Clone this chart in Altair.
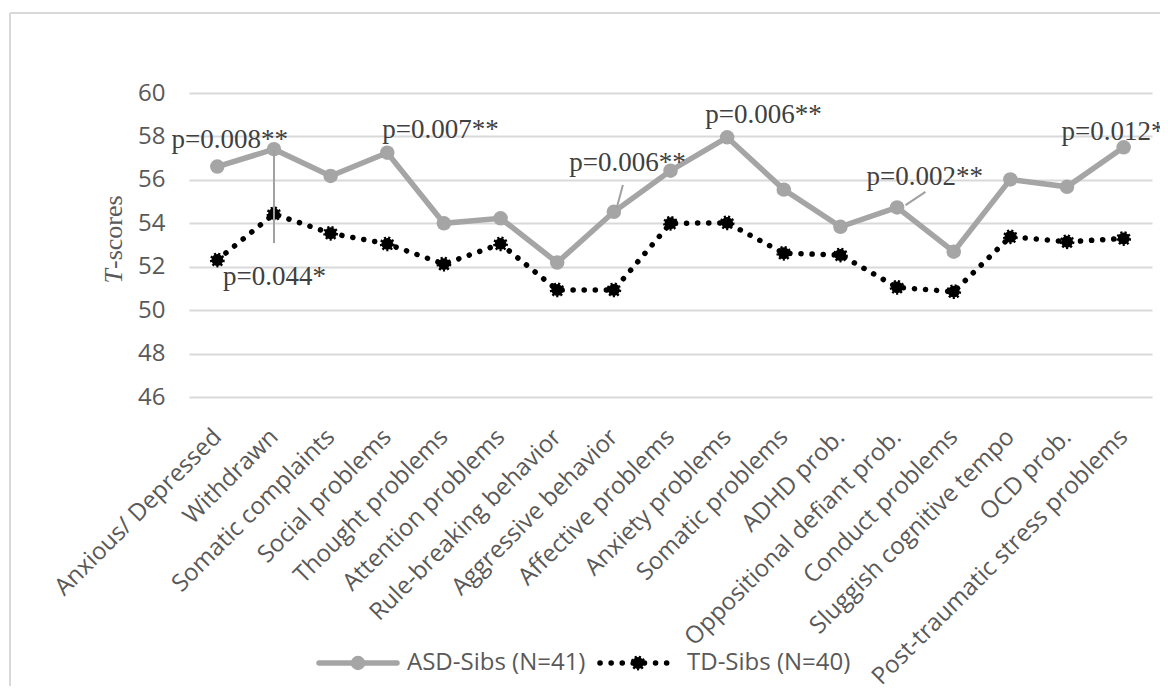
import json
import altair as alt
import pandas as pd

# ---------------- data ----------------
categories = [
    "Anxious/ Depressed", "Withdrawn", "Somatic complaints", "Social problems",
    "Thought problems", "Attention problems", "Rule-breaking behavior",
    "Aggressive behavior", "Affective problems", "Anxiety problems",
    "Somatic problems", "ADHD prob.", "Oppositional defiant prob.",
    "Conduct problems", "Sluggish cognitive tempo", "OCD prob.",
    "Post-traumatic stress problems",
]
asd_values = [56.61, 57.41, 56.18, 57.25, 54.00, 54.23, 52.19, 54.53, 56.42,
              57.96, 55.55, 53.84, 54.73, 52.69, 56.02, 55.68, 57.50]
td_values = [52.31, 54.43, 53.54, 53.05, 52.12, 53.05, 50.93, 50.93, 54.00,
             54.02, 52.62, 52.54, 51.05, 50.85, 53.38, 53.15, 53.30]
series = ["ASD-Sibs (N=41)", "TD-Sibs (N=40)"]
y_ticks = [46, 48, 50, 52, 54, 56, 58, 60]

ann_text = ["p=0.008**", "p=0.044*", "p=0.007**", "p=0.006**", "p=0.006**",
            "p=0.002**", "p=0.012*"]
ann_x = [0.22, 1.01, 3.94, 7.24, 9.64, 12.49, 15.81]
ann_y = [57.45, 51.16, 57.91, 56.42, 58.63, 55.76, 57.84]

lead_x = [1.00, 7.16, 12.50]
lead_x2 = [1.00, 7.05, 12.15]
lead_y = [57.37, 55.76, 55.45]
lead_y2 = [53.09, 54.70, 54.84]

# ---------------- styling ----------------
SANS = "Open Sans"
SERIF = "Liberation Serif"
LABEL = "#595959"
ASD_COL = "#a5a5a5"
GRID = "#d9d9d9"

idx = list(range(len(categories)))
df = pd.DataFrame({"i": idx, "cat": categories, "asd": asd_values, "td": td_values})
ann = pd.DataFrame({"x": ann_x, "y": ann_y, "t": ann_text})
lead = pd.DataFrame({"x": lead_x, "x2": lead_x2, "y": lead_y, "y2": lead_y2})
one = pd.DataFrame({"a": [0]})

label_expr = json.dumps(categories) + "[datum.value]"

xscale = alt.Scale(domain=[-0.5, len(categories) - 0.5], nice=False, zero=False)
yscale = alt.Scale(domain=[46, 60], nice=False, zero=False)

x_axis = alt.Axis(
    values=idx, labelExpr=label_expr, grid=False, domain=False, ticks=False,
    labelAngle=315, labelAlign="right", labelBaseline="middle",
    labelPadding=36, labelFlush=False, labelOverlap=False, labelLimit=0,
    labelFont=SANS, labelFontSize=24, labelColor=LABEL, title=None,
)
y_axis = alt.Axis(
    values=y_ticks, grid=True, gridColor=GRID, gridWidth=2, domain=False,
    ticks=False, labelPadding=24, labelFont=SANS, labelFontSize=24,
    labelColor=LABEL, title=None,
)

base = alt.Chart(df)
X = alt.X("i:Q", scale=xscale, axis=x_axis)

td_line = base.mark_line(color="black", strokeWidth=5.5, strokeDash=[0.1, 11],
                         strokeCap="round").encode(
    x=X, y=alt.Y("td:Q", scale=yscale, axis=y_axis))
td_pts = base.mark_point(shape="circle", filled=True, fill="black", size=140,
                         stroke="black", strokeWidth=3, strokeDash=[2, 2],
                         opacity=1).encode(x="i:Q", y="td:Q")
asd_line = base.mark_line(color=ASD_COL, strokeWidth=5.5).encode(
    x="i:Q", y="asd:Q")
asd_pts = base.mark_point(shape="circle", filled=True, color=ASD_COL, size=210,
                          opacity=1).encode(x="i:Q", y="asd:Q")

leaders = alt.Chart(lead).mark_rule(color="#a0a0a0", strokeWidth=2).encode(
    x="x:Q", x2="x2:Q", y="y:Q", y2="y2:Q")

notes = alt.Chart(ann).mark_text(font=SERIF, fontSize=27, color="#404040",
                                 align="center", baseline="alphabetic").encode(
    x="x:Q", y="y:Q", text="t:N")

# outer frame (top and left edges)
frame_top = alt.Chart(one).mark_rule(color=GRID, strokeWidth=2).encode(
    x=alt.value(-179), x2=alt.value(1100), y=alt.value(-80))
frame_left = alt.Chart(one).mark_rule(color=GRID, strokeWidth=2).encode(
    x=alt.value(-179), y=alt.value(-80), y2=alt.value(700))

# y title: italic T + "-scores"
ytitle_t = alt.Chart(one).mark_text(text="T", font=SERIF, fontSize=26,
                                    fontStyle="italic", color=LABEL, angle=270,
                                    align="right", baseline="alphabetic").encode(
    x=alt.value(-67), y=alt.value(176))
ytitle_rest = alt.Chart(one).mark_text(text="-scores", font=SERIF, fontSize=26,
                                       color=LABEL, angle=270, align="left",
                                       baseline="alphabetic").encode(
    x=alt.value(-67), y=alt.value(176))

# manual legend
LY = 570
leg_asd_line = alt.Chart(one).mark_rule(color=ASD_COL, strokeWidth=5.5,
                                        strokeCap="round").encode(
    x=alt.value(130), x2=alt.value(208), y=alt.value(LY))
leg_asd_pt = alt.Chart(one).mark_point(shape="circle", filled=True, color=ASD_COL,
                                       size=210, opacity=1).encode(
    x=alt.value(169), y=alt.value(LY))
leg_asd_txt = alt.Chart(one).mark_text(text=series[0], font=SANS, fontSize=24,
                                       color=LABEL, align="left",
                                       baseline="middle").encode(
    x=alt.value(218), y=alt.value(LY))
leg_td_line = alt.Chart(one).mark_rule(color="black", strokeWidth=5.5,
                                       strokeDash=[0.1, 11],
                                       strokeCap="round").encode(
    x=alt.value(411), x2=alt.value(482), y=alt.value(LY))
leg_td_pt = alt.Chart(one).mark_point(shape="circle", filled=True, fill="black",
                                      size=140, stroke="black", strokeWidth=3,
                                      strokeDash=[2, 2], opacity=1).encode(
    x=alt.value(449), y=alt.value(LY))
leg_td_txt = alt.Chart(one).mark_text(text=series[1], font=SANS, fontSize=24,
                                      color=LABEL, align="left",
                                      baseline="middle").encode(
    x=alt.value(498), y=alt.value(LY))

chart = alt.layer(
    td_line, frame_top, frame_left, td_pts, asd_line, asd_pts, leaders, notes,
    ytitle_t, ytitle_rest,
    leg_asd_line, leg_asd_pt, leg_asd_txt, leg_td_line, leg_td_pt, leg_td_txt,
).properties(
    width=963, height=304,
    autosize=alt.AutoSizeParams(type="none"),
    padding={"left": 181, "top": 85, "right": 8, "bottom": 289},
    background="white",
).configure_view(stroke=None)

chart.save("out.html", embed_options={"renderer": "svg", "actions": False})
